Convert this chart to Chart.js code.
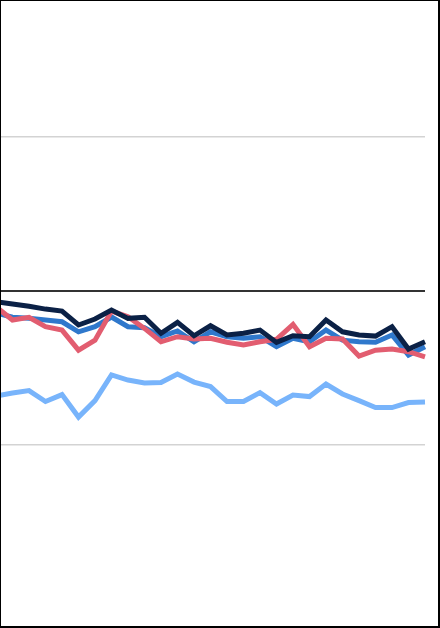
<!DOCTYPE html>
<html>
<head>
<meta charset="utf-8">
<script src="https://cdn.jsdelivr.net/npm/chart.js@4"></script>
<style>
  html, body { margin: 0; padding: 0; background: #fff; }
  #wrap {
    box-sizing: border-box;
    width: 440px; height: 628px;
    border: solid #000; border-width: 1px 2px 2px 1px;
    position: relative;
    overflow: hidden;
  }
  #box {
    position: absolute;
    left: -5px; top: 0;
    width: 441px; height: 625px;
  }
</style>
</head>
<body>
<div id="wrap"><div id="box"><canvas id="chart"></canvas></div></div>
<script>
// 27 periods, no labels shown
const periods = Array.from({ length: 27 }, (_, i) => String(i + 1));

const navySeries = [-0.71, -0.86, -1.01, -1.19, -1.32, -2.22, -1.83, -1.25, -1.79, -1.72,
  -2.76, -2.05, -2.92, -2.27, -2.87, -2.76, -2.55, -3.35, -2.92, -2.98,
  -1.90, -2.66, -2.87, -2.94, -2.33, -3.78, -3.31];
const redSeries = [-1.04, -1.90, -1.72, -2.33, -2.55, -3.85, -3.20, -1.32, -1.69, -2.44,
  -3.31, -2.98, -3.13, -3.08, -3.34, -3.52, -3.31, -3.15, -2.18, -3.63,
  -3.08, -3.13, -4.23, -3.85, -3.78, -3.95, -4.28];
const blueSeries = [-1.43, -1.72, -1.79, -1.90, -2.01, -2.66, -2.33, -1.70, -2.33, -2.40,
  -2.98, -2.61, -3.31, -2.66, -2.98, -3.08, -2.98, -3.63, -3.08, -3.31,
  -2.55, -3.20, -3.31, -3.34, -2.87, -4.17, -3.63];
const lightSeries = [-6.82, -6.63, -6.47, -7.18, -6.73, -8.19, -7.12, -5.46, -5.79, -5.98,
  -5.95, -5.40, -5.92, -6.21, -7.18, -7.18, -6.60, -7.34, -6.76, -6.86,
  -6.05, -6.69, -7.12, -7.57, -7.57, -7.25, -7.21];

const yTicks = [-10, 0, 10];

function line(data, color) {
  return {
    data: data,
    borderColor: color,
    borderWidth: 5,
    pointRadius: 0,
    tension: 0,
    fill: false
  };
}

new Chart(document.getElementById('chart'), {
  type: 'line',
  data: {
    labels: periods,
    datasets: [
      line(navySeries, '#0b2146'),
      line(redSeries, '#e25d70'),
      line(blueSeries, '#2f78cc'),
      line(lightSeries, '#78b4fb')
    ]
  },
  options: {
    responsive: true,
    maintainAspectRatio: false,
    animation: false,
    layout: { padding: { left: 0, right: 12, top: 0, bottom: 0 } },
    plugins: { legend: { display: false }, tooltip: { enabled: false } },
    scales: {
      x: { display: false, offset: false },
      y: {
        min: -21.73,
        max: 18.78,
        afterBuildTicks: axis => { axis.ticks = yTicks.map(v => ({ value: v })); },
        ticks: { display: false },
        border: { display: false },
        grid: {
          drawTicks: false,
          color: ctx => ctx.tick && ctx.tick.value === 0 ? '#333333' : '#d3d3d3',
          lineWidth: ctx => ctx.tick && ctx.tick.value === 0 ? 2 : 1.5
        }
      }
    }
  }
});
</script>
</body>
</html>
